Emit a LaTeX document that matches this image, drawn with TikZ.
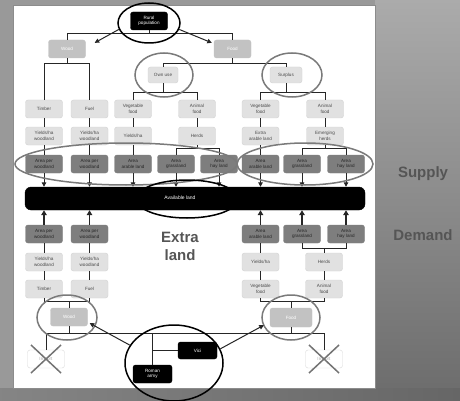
\documentclass[tikz,border=0pt]{standalone}
\usepackage{fontspec}
\setmainfont{Liberation Sans}
\usetikzlibrary{shapes.geometric,arrows.meta}
\definecolor{lfill}{HTML}{E1E1E1}
\definecolor{ldraw}{HTML}{D2D2D2}
\definecolor{dfill}{HTML}{7E7E7E}
\definecolor{gfill}{HTML}{C2C2C2}
\definecolor{txtg}{HTML}{4A4A4A}
\definecolor{ringg}{HTML}{7A7A7A}
\definecolor{bigtxt}{HTML}{555555}
\begin{document}
\begin{tikzpicture}[x=1pt,y=-1pt,
  lbox/.style={rounded corners=2.5pt, fill=lfill, draw=ldraw, line width=0.4pt,
    minimum width=37pt, minimum height=18pt, inner sep=0pt, align=center,
    font=\fontsize{4.6}{5.4}\selectfont, text=txtg},
  dbox/.style={lbox, fill=dfill, draw=dfill, text=black!85},
  gbox/.style={lbox, fill=gfill, draw=gfill, text=white},
  kbox/.style={lbox, fill=black, draw=black, text=white},
  ibox/.style={lbox, fill=white, draw=black!15, text=black!35},
  conn/.style={draw=black!85, line width=1pt},
  arr/.style={conn, -{Triangle[length=4.5pt,width=4.5pt]}},
  arrb/.style={conn, line width=1.5pt, -{Triangle[length=5pt,width=5.5pt]}},
  gring/.style={ellipse, draw=ringg, line width=1.5pt, inner sep=0pt},
  kring/.style={ellipse, draw=black, line width=1.5pt, inner sep=0pt},
  xline/.style={draw=black!55, line width=1.5pt},
  bigt/.style={font=\bfseries\fontsize{15}{18}\selectfont, text=bigtxt, align=center}
]
\useasboundingbox (0,0) rectangle (460,401);
% background
\fill[black!40] (0,0) rectangle (460,401);
\shade[top color=black!33, bottom color=black!57] (375,0) rectangle (460,388);
\shade[left color=black!48, right color=black!60] (0,388) rectangle (460,401);
\fill[white] (13,5) rectangle (375,388);
\draw[black!45, line width=0.5pt] (13,5) rectangle (375,388);

% top part
\node[kbox] (rural) at (149,21) {Rural\\population};
\node[gbox] (woodT) at (67,49) {Wood};
\node[gbox] (foodT) at (232.5,49) {Food};
\node[lbox, minimum width=30pt, minimum height=16pt] (own) at (163,75) {Own use};
\node[lbox, minimum width=32pt, minimum height=16pt] (surp) at (286,75) {Surplus};

\node[lbox] (timT) at (44,109) {Timber};
\node[lbox] (fuelT) at (89.5,109) {Fuel};
\node[lbox] (vegL) at (133,109) {Vegetable\\food};
\node[lbox] (aniL) at (197,109) {Animal\\food};
\node[lbox] (vegR) at (260.5,109) {Vegetable\\food};
\node[lbox] (aniR) at (325,109) {Animal\\food};

\node[lbox] (yw1) at (44,136) {Yields/ha\\woodland};
\node[lbox] (yw2) at (89.5,136) {Yields/ha\\woodland};
\node[lbox] (yhL) at (133,136) {Yields/ha};
\node[lbox] (herdsL) at (197,136) {Herds};
\node[lbox] (extra) at (260.5,136) {Extra\\arable land};
\node[lbox] (emerg) at (325,136) {Emerging\\herds};

\node[dbox] (s1) at (44,164) {Area per\\woodland};
\node[dbox] (s2) at (89.5,164) {Area per\\woodland};
\node[dbox] (s3) at (133,164) {Area\\arable land};
\node[dbox] (s4) at (176,164) {Area\\grassland};
\node[dbox] (s5) at (219,164) {Area\\hay land};
\node[dbox] (s6) at (260.5,164) {Area\\arable land};
\node[dbox] (s7) at (302,164) {Area\\grassland};
\node[dbox] (s8) at (346,164) {Area\\hay land};

\node[kbox, minimum width=340pt, minimum height=23pt, rounded corners=6pt] (bar) at (195,198.5) {};
\node[font=\fontsize{5}{6}\selectfont, text=white] (avail) at (180,198) {Available land};

% demand part
\node[dbox] (d1) at (44,234) {Area per\\woodland};
\node[dbox] (d2) at (89.5,234) {Area per\\woodland};
\node[dbox] (d3) at (260.5,234) {Area\\arable land};
\node[dbox] (d4) at (302,234) {Area\\grassland};
\node[dbox] (d5) at (346,234) {Area\\hay land};

\node[lbox] (yw3) at (44,262) {Yields/ha\\woodland};
\node[lbox] (yw4) at (89.5,262) {Yields/ha\\woodland};
\node[lbox] (yhR) at (260.5,262) {Yields/ha};
\node[lbox] (herdsR) at (324,262) {Herds};

\node[lbox] (timB) at (44,289) {Timber};
\node[lbox] (fuelB) at (89.5,289) {Fuel};
\node[lbox] (vegB) at (260.5,289) {Vegetable\\food};
\node[lbox] (aniB) at (324,289) {Animal\\food};

\node[gbox] (woodB) at (69,317) {Wood};
\node[gbox, minimum width=42pt, minimum height=19pt] (foodB) at (291,317.5) {Food};
\node[ibox] (impL) at (46,359) {Import};
\node[ibox] (impR) at (324,359) {Import};
\node[kbox, minimum width=39pt, minimum height=17pt] (vici) at (197.5,350.5) {Vici};
\node[kbox, minimum width=39pt] (roman) at (152.5,374) {Roman\\army};

% connectors top
\draw[conn] (rural.south) -- ++(0,3) coordinate (r1);
\draw[conn] (woodT.north) |- (r1) -| (foodT.north);
\draw[conn] (woodT.south) -- ++(0,5) coordinate (w1);
\draw[conn] (timT.north) |- (w1) -| (fuelT.north);
\draw[conn] (foodT.south) -- ++(0,5) coordinate (f1);
\draw[conn] (own.north) |- (f1) -| (surp.north);
\draw[conn] (own.south) -- ++(0,9) coordinate (o1);
\draw[conn] (vegL.north) |- (o1) -| (aniL.north);
\draw[conn] (surp.south) -- ++(0,9) coordinate (u1);
\draw[conn] (vegR.north) |- (u1) -| (aniR.north);
\foreach \a/\b in {timT/yw1, fuelT/yw2, vegL/yhL, aniL/herdsL, vegR/extra, aniR/emerg, yw1/s1, yw2/s2, yhL/s3, extra/s6}
  \draw[conn] (\a.south) -- (\b.north);
\draw[conn] (herdsL.south) -- ++(0,3) coordinate (h1);
\draw[conn] (s4.north) |- (h1) -| (s5.north);
\draw[conn] (emerg.south) -- ++(0,3) coordinate (h2);
\draw[conn] (s7.north) |- (h2) -| (s8.north);
\foreach \n in {s1,s2,s3,s4,s5,s6,s7,s8}
  \draw[arr] (\n.south) -- (\n.south |- bar.north);
\foreach \n in {d1,d2,d3,d4,d5}
  \draw[arrb] (\n.north) -- (\n.north |- bar.south);

% connectors bottom
\foreach \a/\b in {d1/yw3, d2/yw4, d3/yhR, yw3/timB, yw4/fuelB, yhR/vegB, herdsR/aniB}
  \draw[conn] (\a.south) -- (\b.north);
\draw[conn] (d4.south) -- ++(0,5) coordinate (g2) -| (d5.south);
\draw[conn] (herdsR.north) -- (herdsR.north |- g2);
\draw[conn] (woodB.north) -- ++(0,-6) coordinate (wb1);
\draw[conn] (timB.south) |- (wb1) -| (fuelB.south);
\draw[conn] (foodB.north) -- ++(0,-6) coordinate (fb1);
\draw[conn] (vegB.south) |- (fb1) -| (aniB.south);
\draw[conn] (woodB.south) -- ++(0,7) coordinate (wb2);
\draw[conn] (foodB.south) -- ++(0,6) coordinate (fb2);
\draw[conn] (impL.north) |- (wb2) -- (fb2) -| (impR.north);
\draw[conn] (roman.north) -- (roman.north |- wb2);
\draw[conn] (vici.west) -- (vici.west -| roman.north);

% crosses
\draw[xline] ([shift={(-15,-14)}]impL.center) -- ([shift={(15,14)}]impL.center);
\draw[xline] ([shift={(15,-14)}]impL.center) -- ([shift={(-15,14)}]impL.center);
\draw[xline] ([shift={(-15,-14)}]impR.center) -- ([shift={(15,14)}]impR.center);
\draw[xline] ([shift={(15,-14)}]impR.center) -- ([shift={(-15,14)}]impR.center);

% rings
\node[kring, minimum width=62pt, minimum height=40pt] (ruralE) at (149,23) {};
\node[gring, minimum width=58pt, minimum height=44pt] (ownE) at (164,75) {};
\node[gring, minimum width=60pt, minimum height=44pt] (surpE) at (292,75) {};
\node[gring, minimum width=222pt, minimum height=42pt] (supL) at (126,164) {};
\node[gring, minimum width=136pt, minimum height=42pt] (supR) at (305,164) {};
\node[kring, minimum width=102pt, minimum height=38pt] (availE) at (187,199) {};
\node[gring, minimum width=60pt, minimum height=45pt] (woodE) at (67,317.5) {};
\node[gring, minimum width=58pt, minimum height=45pt] (foodE) at (291,317.5) {};
\node[kring, minimum width=98pt, minimum height=76pt] (romanE) at (174,363) {};

\draw[arr] (ruralE.192) -- ([xshift=9pt,yshift=-3pt]woodT.north east);
\draw[arr] (ruralE.-12) -- ([xshift=-2pt,yshift=-3pt]foodT.north west);
\draw[arr] (romanE.158) -- ([xshift=2pt,yshift=3pt]woodB.south east);
\draw[arr] (romanE.17) -- ([xshift=-6pt,yshift=2pt]foodB.south west);

% big labels
\node[bigt] (extraland) at (180,246) {Extra\\land};
\node[bigt, anchor=base] (supply) at (423,177) {Supply};
\node[bigt, anchor=base] (demand) at (423,240.5) {Demand};
\end{tikzpicture}
\end{document}
